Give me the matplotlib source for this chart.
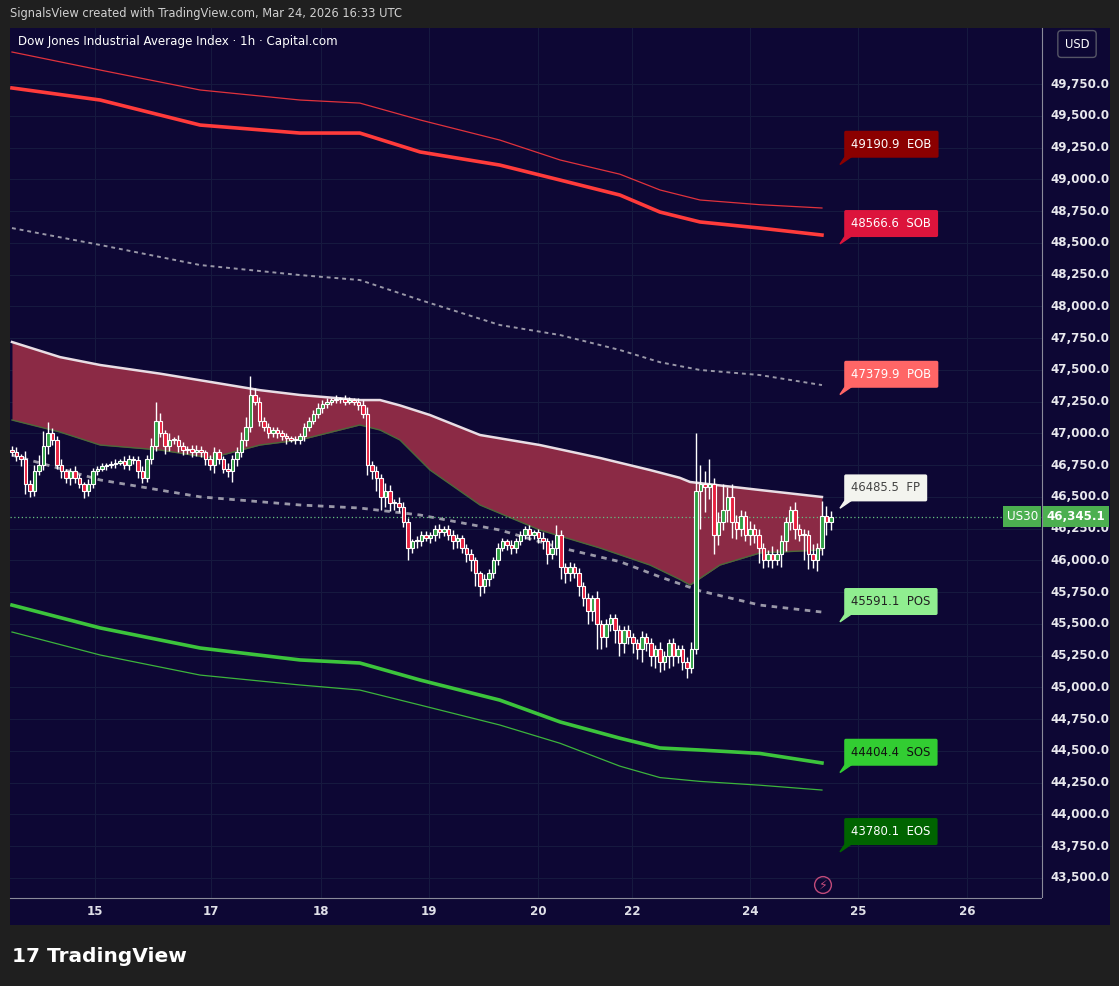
import matplotlib
matplotlib.use("Agg")
import matplotlib.pyplot as plt
from matplotlib.patches import Rectangle, Polygon
import numpy as np

closes = [46850,46820,46800,46600,46550,46700,46750,46900,47000,46950,46750,46700,46650,46700,46650,46600,46550,46600,46700,
          46720,46740,46750,46760,46770,46780,46750,46800,46790,46700,46650,46800,46900,47100,47000,
          46900,46950,46950,46900,46870,46880,46850,46870,46850,46800,46750,
          46850,46800,46720,46700,46800,46850,46950,47050,47300,47250,47100,47050,47000,47030,
          47000,46980,46960,46950,46950,46980,47050,47100,47150,47200,47230,
          47250,47260,47270,47270,47250,47260,47250,47220,47150,46750,46700,46650,
          46500,46550,46450,46450,46420,46300,46100,46150,46150,46200,46180,46200,
          46250,46220,46250,46200,46150,46180,46100,46050,46000,45900,45800,45850,45900,46000,46100,46150,46120,46100,46150,46200,46250,46200,46220,46180,
          46150,46050,46100,46200,45950,45900,45950,45900,45800,45700,45600,45700,45500,45400,45500,45550,45450,45350,45450,45400,45350,
          45300,45400,45350,45250,45300,45200,45250,45350,45250,45300,45200,45150,45300,
          46550,46600,46580,46600,46200,46300,46400,46500,46300,46250,46350,46200,46250,46200,46100,46000,46050,46000,46050,46150,46300,46400,46250,46200,46200,46050,46000,46100,46350,46300,46345]
wick_up = [30,40,20,60,30,50,80,120,90,40,30,50,20,30,40,30,20,40,30,
           20,30,20,20,30,20,40,30,20,30,40,30,60,150,60,
           30,50,20,40,30,20,30,40,30,20,30,
           40,30,20,50,30,40,60,80,150,60,40,30,30,20,
           20,30,20,20,30,20,30,30,30,40,30,
           30,20,30,20,30,30,20,30,40,60,30,40,
           30,60,40,30,50,40,30,20,40,30,30,20,
           30,40,20,30,40,30,20,30,40,30,20,40,30,30,40,30,20,40,30,30,20,30,20,30,
           40,30,60,80,40,30,40,30,40,30,40,30,60,30,40,30,30,40,30,40,30,
           30,40,30,40,30,60,40,30,40,30,30,40,60,
           450,150,100,200,50,80,200,80,100,60,50,40,60,40,50,40,30,60,40,50,40,30,60,40,50,40,80,40,120,80,40]
wick_dn = [30,40,60,80,50,40,30,40,60,40,30,50,40,60,40,30,60,40,30,
           30,20,30,20,30,20,30,40,30,50,40,30,40,40,30,
           60,40,30,50,40,30,40,30,40,50,40,
           60,40,30,40,80,60,40,50,40,30,40,30,40,30,
           40,30,40,20,30,30,40,30,30,30,40,
           30,30,20,30,30,20,30,40,30,80,60,100,
           100,80,60,50,40,40,100,40,50,40,30,40,
           50,40,30,40,60,50,40,60,80,100,80,60,50,40,40,30,40,50,40,30,30,40,30,40,
           60,80,40,60,100,80,60,40,80,60,100,80,200,100,80,60,100,100,80,60,80,
           80,100,60,80,100,80,60,100,80,60,60,80,40,
           40,300,200,100,150,80,60,100,120,80,60,50,80,60,120,60,50,60,40,100,80,60,80,50,200,120,60,80,60,100,60]

day_labels = ["15", "17", "18", "19", "20", "22", "24", "25", "26"]
day_pos = [18.4, 44.2, 68.7, 92.7, 116.9, 137.8, 164.0, 188.0, 212.2]

band_x = [0, 10.7, 19.6, 32.9, 44.2, 55.1, 64, 77.3, 81.8, 86.2, 92.9, 104, 117.3, 130.7, 141.8, 148.4, 150.7, 157.3, 166.2, 180]
band_top = [47719, 47600, 47538, 47470, 47404, 47340, 47302, 47262, 47262, 47220, 47144, 46987, 46908, 46806, 46711, 46650, 46617, 46590, 46554, 46499]
band_bot = [47105, 47010, 46908, 46869, 46806, 46908, 46948, 47066, 47026, 46948, 46711, 46436, 46239, 46097, 45963, 45850, 45806, 45963, 46058, 46082]

lvl_x = [0, 19.6, 41.8, 64, 77.3, 90.7, 108.4, 121.8, 135.1, 144, 152.9, 166.2, 180]
eob = [50002, 49860, 49703, 49624, 49600, 49467, 49309, 49152, 49040, 48916, 48837, 48800, 48774]
sob = [49719, 49624, 49427, 49364, 49364, 49215, 49112, 48994, 48876, 48742, 48664, 48616, 48561]
pob = [48616, 48483, 48325, 48246, 48207, 48050, 47853, 47774, 47656, 47560, 47499, 47459, 47380]
mid = [46829, 46633, 46500, 46436, 46412, 46357, 46239, 46100, 45990, 45870, 45760, 45648, 45593]
sos = [45648, 45468, 45310, 45216, 45192, 45058, 44900, 44728, 44600, 44523, 44507, 44480, 44405]
eos = [45436, 45255, 45097, 45019, 44979, 44861, 44704, 44560, 44380, 44290, 44260, 44230, 44192]

yticks = [43500 + 250 * k for k in range(26)]
last_price = 46345.1

labels = [("49190.9  EOB", 49190.9, "#8b0000", "white"),
          ("48566.6  SOB", 48566.6, "#dc143c", "white"),
          ("47379.9  POB", 47379.9, "#ff6666", "white"),
          ("46485.5  FP", 46485.5, "#f3f4ef", "#444444"),
          ("45591.1  POS", 45591.1, "#90ee90", "#222222"),
          ("44404.4  SOS", 44404.4, "#32cd32", "#111111"),
          ("43780.1  EOS", 43780.1, "#006400", "white")]

W, H = 1119, 986
fig = plt.figure(figsize=(W / 100, H / 100), dpi=100, facecolor="#1f1f1f")
navy = "#0d0734"
ax = fig.add_axes([10 / W, 1 - 898 / H, 1032 / W, 870 / H], facecolor=navy)
x0, x1 = -0.44, 228.9
ax.set_xlim(x0, x1)
ax.set_ylim(43342, 50191)

axr = fig.add_axes([1042 / W, 1 - 898 / H, 68 / W, 870 / H], facecolor=navy)
axr.set_ylim(43342, 50191)
axr.set_xlim(0, 1)
axr.set_xticks([]); axr.set_yticks([])
for s in axr.spines.values():
    s.set_visible(False)
axr.spines["left"].set_visible(True)
axr.spines["left"].set_color("#8a8a9a")
for t in yticks:
    axr.text(0.12, t, f"{t:,.1f}", color="#e8e8ee", fontsize=8.6, va="center", ha="left", fontweight="bold")

axb = fig.add_axes([10 / W, 1 - 925 / H, 1032 / W, 27 / H], facecolor=navy)
axb.set_xlim(x0, x1)
axb.set_ylim(0, 1)
axb.set_yticks([]); axb.set_xticks([])
for s in axb.spines.values():
    s.set_visible(False)
axb.spines["top"].set_visible(True)
axb.spines["top"].set_color("#8a8a9a")
for lab, p in zip(day_labels, day_pos):
    axb.text(p, 0.5, lab, color="#e0e0e8", fontsize=8.6, ha="center", va="center", fontweight="bold")
axc = fig.add_axes([1042 / W, 1 - 925 / H, 68 / W, 27 / H], facecolor=navy)
axc.set_xticks([]); axc.set_yticks([])
for s in axc.spines.values():
    s.set_visible(False)

ax.set_axisbelow(True)
ax.set_xticks(day_pos)
ax.set_yticks(yticks)
ax.tick_params(length=0, labelbottom=False, labelleft=False)
ax.grid(True, color="#16193f", lw=0.8, zorder=0)
for s in ax.spines.values():
    s.set_visible(False)

bx = np.array(band_x)
ax.fill_between(bx, band_bot, band_top, color="#8b2a45", lw=0, zorder=1)
ax.plot(bx, band_top, color="#e8dde4", lw=1.8, zorder=2)
ax.plot(bx, band_bot, color="#4b6a3a", lw=1.0, zorder=2)

lx = np.array(lvl_x)
ax.plot(lx, eob, color="#e0323c", lw=0.9, zorder=2)
ax.plot(lx, sob, color="#ff3b3b", lw=2.6, zorder=2)
ax.plot(lx, pob, color="#9a98a8", lw=1.4, ls=(0, (2, 2)), zorder=2)
ax.plot(lx, mid, color="#9a98a8", lw=2.0, ls=(0, (2, 2)), zorder=2)
ax.plot(lx, sos, color="#3cc43c", lw=2.6, zorder=2)
ax.plot(lx, eos, color="#3cb43c", lw=0.9, zorder=2)

c = np.array(closes, dtype=float)
o = np.concatenate([[c[0] + 20], c[:-1]])
for i in range(len(c)):
    hi = max(o[i], c[i]) + wick_up[i]
    lo = min(o[i], c[i]) - wick_dn[i]
    up = c[i] >= o[i]
    ax.vlines(i, lo, hi, color="white", lw=1.0, zorder=3)
    b0 = min(o[i], c[i]); bh = max(abs(c[i] - o[i]), 8)
    ax.add_patch(Rectangle((i - 0.38, b0), 0.76, bh, facecolor="#2ea043" if up else "#e8203f",
                           edgecolor="white", lw=0.8, zorder=4))

ax.axhline(last_price, color="#66c080", lw=0.9, ls=(0, (1, 2)), zorder=2)

for txt, p, bg, fg in labels:
    xl = 184.0
    ax.add_patch(Polygon([[xl, p - 75], [xl + 1.6, p + 10], [xl + 3.5, p + 10]], closed=True, color=bg, zorder=5))
    ax.text(xl + 2.5, p + 85, txt, color=fg, fontsize=8.4, va="center", ha="left", zorder=6,
            bbox=dict(boxstyle="round,pad=0.6,rounding_size=0.15", fc=bg, ec="none"))

ax.text(224.5, last_price, "US30", color="white", fontsize=8.6, va="center", ha="center", zorder=6,
        bbox=dict(boxstyle="square,pad=0.3", fc="#4caf50", ec="none"))
axr.text(0.5, last_price, "46,345.1", color="white", fontsize=8.6, va="center", ha="center", fontweight="bold",
         bbox=dict(boxstyle="square,pad=0.3", fc="#4caf50", ec="none"))

ax.text(8 / 1032, 1 - 14 / 870, "Dow Jones Industrial Average Index · 1h · Capital.com", transform=ax.transAxes,
        color="white", fontsize=8.6, va="center", ha="left")
ax.text(813 / 1032, 1 - (885 - 28) / 870, "⚡", transform=ax.transAxes, color="#c04a7a", fontsize=9,
        ha="center", va="center", bbox=dict(boxstyle="circle,pad=0.15", fc="none", ec="#c04a7a"))

fig.text(10 / W, 1 - 13 / H, "SignalsView created with TradingView.com, Mar 24, 2026 16:33 UTC", color="#d0d0d0",
         fontsize=8.3, va="center", ha="left")
fig.text(1077 / W, 1 - 44 / H, "USD", color="white", fontsize=8.3, va="center", ha="center",
         bbox=dict(boxstyle="round,pad=0.6,rounding_size=0.3", fc="#0d0734", ec="#555566"))
fig.text(12 / W, 1 - 956 / H, "17 TradingView", color="white", fontsize=14.5, fontweight="bold", va="center", ha="left")

fig.savefig("out.png", dpi=100, facecolor=fig.get_facecolor())
